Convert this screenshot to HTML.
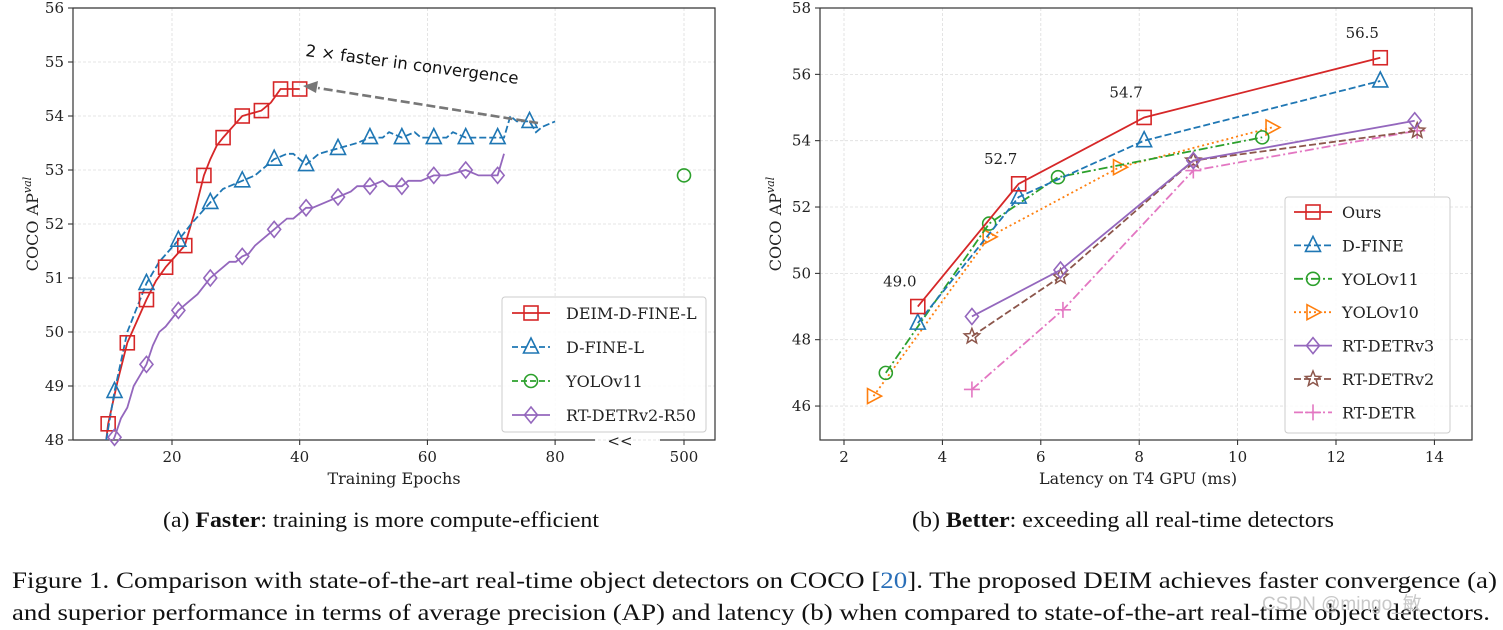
<!DOCTYPE html>
<html><head><meta charset="utf-8"><style>
body{margin:0;background:#fff}
svg{display:block}
.tk{font-family:"DejaVu Serif","Liberation Serif",serif;font-size:15px;fill:#222}
.lb{font-family:"DejaVu Serif","Liberation Serif",serif;font-size:16px;fill:#222}
.cap{font-family:"Liberation Serif",serif;font-size:22px;fill:#111}
.fig{font-family:"Liberation Serif",serif;font-size:23.5px;fill:#111}
</style></head><body>
<svg id="s" width="1503" height="630" viewBox="0 0 1503 630" xmlns="http://www.w3.org/2000/svg">
<g id="L"></g>
<g id="R"></g>
<text class="cap" x="163" y="527" textLength="436" lengthAdjust="spacingAndGlyphs">(a) <tspan font-weight="bold">Faster</tspan>: training is more compute-efficient</text>
<text class="cap" x="912" y="527" textLength="422" lengthAdjust="spacingAndGlyphs">(b) <tspan font-weight="bold">Better</tspan>: exceeding all real-time detectors</text>
<text class="fig" x="12" y="588" textLength="1485" lengthAdjust="spacingAndGlyphs">Figure 1. Comparison with state-of-the-art real-time object detectors on COCO [<tspan fill="#2a6fb8">20</tspan>]. The proposed DEIM achieves faster convergence (a)</text>
<text class="fig" x="12" y="620" textLength="1478" lengthAdjust="spacingAndGlyphs">and superior performance in terms of average precision (AP) and latency (b) when compared to state-of-the-art real-time object detectors.</text>
<text x="1262" y="610" font-family="Liberation Sans, Noto Sans CJK SC, sans-serif" font-size="19" fill="#c8c8c8">CSDN @mingo_敏</text>
</svg>
<script>
// ---------- left chart data ----------
const deimEpochs=[9.5,10,11.5,13,14.5,16,17.5,19,20.5,22,23.5,25,26,27,28,29.5,31,32.5,34,35.5,37,38.5,40];
const deimAP=[47.8,48.3,49.1,49.8,50.2,50.6,50.95,51.2,51.4,51.6,52.2,52.9,53.2,53.45,53.6,53.8,54.0,54.05,54.1,54.25,54.5,54.5,54.5];
const deimMarkIdx=[1,3,5,7,9,11,14,16,18,20,22];
const dfineEpochs=[9.7,11,13,16,18,21,23,26,28,31,33,34,36,38,39,41,43,46,49,51,53,54,56,58,59,61,63,64,66,68,69,71,72,73,74,76,77,78,80];
const dfineAP=[48.0,48.9,50.0,50.9,51.3,51.7,52.0,52.4,52.65,52.8,52.9,53.0,53.2,53.3,53.3,53.1,53.3,53.4,53.5,53.6,53.6,53.7,53.6,53.7,53.6,53.6,53.6,53.7,53.6,53.6,53.6,53.6,53.6,54.0,53.9,53.9,53.7,53.8,53.9];
const dfineMarkEpochs=[11,16,21,26,31,36,41,46,51,56,61,66,71,76];
const dfineMarkAP=[48.9,50.9,51.7,52.4,52.8,53.2,53.1,53.4,53.6,53.6,53.6,53.6,53.6,53.9];
const rtv2Epochs=[10.3,11,12,13,14,16,17,18,19,21,23,24,26,28,29,30,31,32,33,34,36,37,38,39,41,42,44,46,48,49,51,53,54,56,57,59,61,63,66,68,71,72];
const rtv2AP=[47.9,48.05,48.4,48.6,49.0,49.4,49.75,50.0,50.1,50.4,50.6,50.7,51.0,51.2,51.3,51.3,51.4,51.45,51.6,51.7,51.9,52.0,52.1,52.1,52.3,52.3,52.4,52.5,52.6,52.7,52.7,52.8,52.7,52.7,52.8,52.8,52.9,52.9,53.0,52.9,52.9,53.3];
const rtv2MarkEpochs=[11,16,21,26,31,36,41,46,51,56,61,66,71];
const rtv2MarkAP=[48.05,49.4,50.4,51.0,51.4,51.9,52.3,52.5,52.7,52.7,52.9,53.0,52.9];
const yoloEpochs=[500];
const yoloAP=[52.9];
const leftXTicks=[20,40,60,80,500];
const leftYTicks=[48,49,50,51,52,53,54,55,56];
// ---------- right chart data ----------
const seriesNames=["Ours","D-FINE","YOLOv11","YOLOv10","RT-DETRv3","RT-DETRv2","RT-DETR"];
const oursLat=[3.5,5.55,8.1,12.9];     const oursAP=[49.0,52.7,54.7,56.5];
const dfineLat=[3.5,5.55,8.1,12.9];    const dfineAP2=[48.5,52.3,54.0,55.8];
const y11Lat=[2.85,4.95,6.35,10.5];    const y11AP=[47.0,51.5,52.9,54.1];
const y10Lat=[2.6,4.95,7.6,10.7];      const y10AP=[46.3,51.1,53.2,54.4];
const v3Lat=[4.6,6.4,9.1,13.6];        const v3AP=[48.7,50.1,53.4,54.6];
const v2Lat=[4.6,6.4,9.1,13.65];       const v2AP=[48.1,49.9,53.4,54.3];
const rtLat=[4.6,6.45,9.1,13.65];      const rtAP=[46.5,48.9,53.1,54.3];
const rightXTicks=[2,4,6,8,10,12,14];
const rightYTicks=[46,48,50,52,54,56,58];

const NS="http://www.w3.org/2000/svg";
function mk(p,tag,a){const e=document.createElementNS(NS,tag);for(const k in a)e.setAttribute(k,a[k]);p.appendChild(e);return e;}
const C={red:"#d62728",blue:"#1f77b4",green:"#2ca02c",orange:"#ff7f0e",purple:"#9467bd",brown:"#8c564b",pink:"#e377c2"};
function marker(g,type,x,y,col){
  let e;const s=7;
  if(type==="s")e=mk(g,"rect",{x:x-s,y:y-s,width:2*s,height:2*s,fill:"none",stroke:col,"stroke-width":1.6});
  else if(type==="^")e=mk(g,"polygon",{points:`${x},${y-9} ${x-7.5},${y+6} ${x+7.5},${y+6}`,fill:"none",stroke:col,"stroke-width":1.6});
  else if(type==="o")e=mk(g,"circle",{cx:x,cy:y,r:6.5,fill:"none",stroke:col,"stroke-width":1.6});
  else if(type==="d")e=mk(g,"polygon",{points:`${x},${y-8} ${x+6.5},${y} ${x},${y+8} ${x-6.5},${y}`,fill:"none",stroke:col,"stroke-width":1.6});
  else if(type===">")e=mk(g,"polygon",{points:`${x+8},${y} ${x-6},${y-7.5} ${x-6},${y+7.5}`,fill:"none",stroke:col,"stroke-width":1.6});
  else if(type==="*"){let p=[];for(let i=0;i<10;i++){const r=i%2?3.5:8,a=-Math.PI/2+i*Math.PI/5;p.push((x+r*Math.cos(a)).toFixed(1)+","+(y+r*Math.sin(a)).toFixed(1));}
    e=mk(g,"polygon",{points:p.join(" "),fill:"none",stroke:col,"stroke-width":1.5});}
  else if(type==="+"){e=mk(g,"path",{d:`M${x-8},${y}H${x+8}M${x},${y-8}V${y+8}`,stroke:col,"stroke-width":1.6});}
  
  
  return e;
}
function line(g,xs,ys,fx,fy,col,dash,name,clip){
  const e=mk(g,"polyline",{points:xs.map((v,i)=>fx(v)+","+fy(ys[i])).join(" "),fill:"none",stroke:col,"stroke-width":1.8,"stroke-dasharray":dash||"none","clip-path":clip||"none"});
  
  
}
// ---------- LEFT ----------
(function(){
  const g=document.getElementById("L");
  const X0=73,X1=715,Y0=8,Y1=440;
  const fx=e=>e>=400?684:172+(e-20)*6.385;
  const fy=v=>440-(v-48)*54;
  mk(g,"defs",{}).innerHTML='<clipPath id="cl"><rect x="73" y="8" width="642" height="432"/></clipPath>';
  leftXTicks.forEach(t=>{mk(g,"line",{x1:fx(t),x2:fx(t),y1:Y0,y2:Y1,stroke:"#ddd","stroke-dasharray":"3,2","stroke-width":0.8});
    mk(g,"line",{x1:fx(t),x2:fx(t),y1:Y1,y2:Y1+5,stroke:"#222"});
    const t2=mk(g,"text",{class:"tk",x:fx(t),y:Y1+22,"text-anchor":"middle"});t2.textContent=t;
    });
  leftYTicks.forEach(t=>{mk(g,"line",{x1:X0,x2:X1,y1:fy(t),y2:fy(t),stroke:"#ddd","stroke-dasharray":"3,2","stroke-width":0.8});
    mk(g,"line",{x1:X0-5,x2:X0,y1:fy(t),y2:fy(t),stroke:"#222"});
    const t2=mk(g,"text",{class:"tk",x:X0-9,y:fy(t)+5,"text-anchor":"end"});t2.textContent=t;
    });
  mk(g,"path",{d:`M${X0},${Y1}V${Y0}H${X1}V${Y1}H660M595,${Y1}H${X0}`,fill:"none",stroke:"#333","stroke-width":1.2});
  const br=mk(g,"text",{class:"tk",x:620,y:Y1+6,"text-anchor":"middle"});br.textContent="<<";
  
  line(g,deimEpochs,deimAP,fx,fy,C.red,"","deim-line","url(#cl)");
  line(g,dfineEpochs,dfineAP,fx,fy,C.blue,"7,3","dfine-line","url(#cl)");
  line(g,rtv2Epochs,rtv2AP,fx,fy,C.purple,"","rtdetrv2-line","url(#cl)");
  deimMarkIdx.forEach(i=>marker(g,"s",fx(deimEpochs[i]),fy(deimAP[i]),C.red));
  dfineMarkEpochs.forEach((e,i)=>marker(g,"^",fx(e),fy(dfineMarkAP[i]),C.blue));
  rtv2MarkEpochs.forEach((e,i)=>marker(g,"d",fx(e),fy(rtv2MarkAP[i]),C.purple));
  yoloEpochs.forEach((e,i)=>marker(g,"o",fx(e),fy(yoloAP[i]),C.green));
  mk(g,"line",{x1:538,y1:123,x2:318,y2:88,stroke:"#777","stroke-width":2.6,"stroke-dasharray":"9,4"});
  mk(g,"path",{d:"M303,86 L318,81 L316,93 Z",fill:"#777"});
  const an=mk(g,"text",{x:305,y:56,"font-family":"DejaVu Sans, sans-serif","font-size":16.5,fill:"#111",transform:"rotate(7.5 305 56)"});
  an.textContent="2 ×  faster in convergence";
  const xl=mk(g,"text",{class:"lb",x:394,y:484,"text-anchor":"middle"});xl.textContent="Training Epochs";
  
  const yl=mk(g,"text",{class:"lb",transform:"translate(38,224) rotate(-90)","text-anchor":"middle"});yl.innerHTML='COCO AP<tspan font-size="11" font-style="italic" dy="-7">val</tspan>';
  
  const lg=mk(g,"g",{});
  mk(lg,"rect",{x:502,y:297,width:204,height:135,rx:3,fill:"#fff","fill-opacity":0.85,stroke:"#ccc"});
  const items=[["DEIM-D-FINE-L",C.red,"s",""],["D-FINE-L",C.blue,"^","6,3"],["YOLOv11",C.green,"o","6,3"],["RT-DETRv2-R50",C.purple,"d",""]];
  items.forEach((it,i)=>{const y=313+i*34;
    mk(lg,"line",{x1:512,x2:550,y1:y,y2:y,stroke:it[1],"stroke-width":1.8,"stroke-dasharray":it[3]||"none"});
    marker(lg,it[2],531,y,it[1]);
    const t=mk(lg,"text",{class:"lb",x:566,y:y+6});t.textContent=it[0];
    });
})();
// ---------- RIGHT ----------
(function(){
  const g=document.getElementById("R");
  const X0=820,X1=1472,Y0=8,Y1=440;
  const fx=v=>844+(v-2)*49.2;
  const fy=v=>8+(58-v)*33.17;
  rightXTicks.forEach(t=>{mk(g,"line",{x1:fx(t),x2:fx(t),y1:Y0,y2:Y1,stroke:"#ddd","stroke-dasharray":"3,2","stroke-width":0.8});
    mk(g,"line",{x1:fx(t),x2:fx(t),y1:Y1,y2:Y1+5,stroke:"#222"});
    const t2=mk(g,"text",{class:"tk",x:fx(t),y:Y1+22,"text-anchor":"middle"});t2.textContent=t;
    });
  rightYTicks.forEach(t=>{mk(g,"line",{x1:X0,x2:X1,y1:fy(t),y2:fy(t),stroke:"#ddd","stroke-dasharray":"3,2","stroke-width":0.8});
    mk(g,"line",{x1:X0-5,x2:X0,y1:fy(t),y2:fy(t),stroke:"#222"});
    const t2=mk(g,"text",{class:"tk",x:X0-9,y:fy(t)+5,"text-anchor":"end"});t2.textContent=t;
    });
  mk(g,"rect",{x:X0,y:Y0,width:X1-X0,height:Y1-Y0,fill:"none",stroke:"#333","stroke-width":1.2});
  const S=[[oursLat,oursAP,C.red,"s",""],[dfineLat,dfineAP2,C.blue,"^","7,3"],[y11Lat,y11AP,C.green,"o","9,3,2,3"],[y10Lat,y10AP,C.orange,">","2,3"],
           [v3Lat,v3AP,C.purple,"d",""],[v2Lat,v2AP,C.brown,"*","7,3"],[rtLat,rtAP,C.pink,"+","9,3,2,3"]];
  for(let k=S.length-1;k>=0;k--){const s=S[k];
    line(g,s[0],s[1],fx,fy,s[2],s[4],seriesNames[k].toLowerCase()+"-line");
    s[0].forEach((v,i)=>marker(g,s[3],fx(v),fy(s[1][i]),s[2]));}
  oursLat.forEach((v,i)=>{const t=mk(g,"text",{class:"tk",x:fx(v)-18,y:fy(oursAP[i])-20,"text-anchor":"middle"});t.textContent=oursAP[i].toFixed(1);
    });
  const xl=mk(g,"text",{class:"lb",x:1138,y:484,"text-anchor":"middle"});xl.textContent="Latency on T4 GPU (ms)";
  
  const yl=mk(g,"text",{class:"lb",transform:"translate(781,224) rotate(-90)","text-anchor":"middle"});yl.innerHTML='COCO AP<tspan font-size="11" font-style="italic" dy="-7">val</tspan>';
  
  const lg=mk(g,"g",{});
  mk(lg,"rect",{x:1285,y:197,width:165,height:236,rx:3,fill:"#fff","fill-opacity":0.85,stroke:"#ccc"});
  S.forEach((s,i)=>{const y=212+i*33.4;
    mk(lg,"line",{x1:1294,x2:1332,y1:y,y2:y,stroke:s[2],"stroke-width":1.8,"stroke-dasharray":s[4]||"none"});
    marker(lg,s[3],1313,y,s[2]);
    const t=mk(lg,"text",{class:"lb",x:1342,y:y+6});t.textContent=seriesNames[i];
    });
})();
</script>
</body></html>
